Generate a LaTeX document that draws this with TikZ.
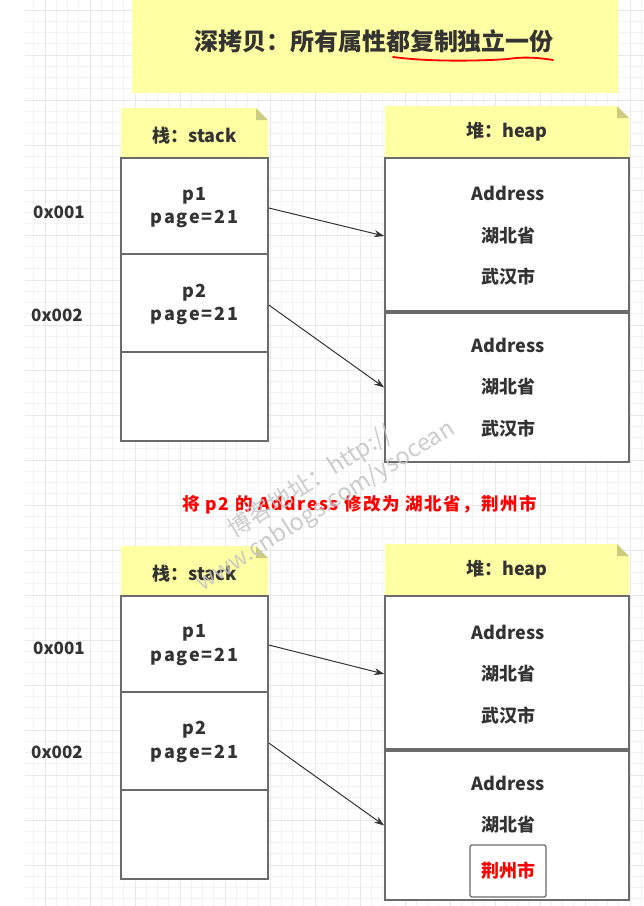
\documentclass[tikz,border=0pt]{standalone}
\usepackage{fontspec}
\setmainfont{Noto Sans CJK SC}
\newfontfamily\spacedfont{Noto Sans CJK SC}[LetterSpace=10]
\newfontfamily\captionfont{Noto Sans CJK SC}[LetterSpace=9]
\usetikzlibrary{arrows.meta}

\definecolor{notefill}{HTML}{FFFFA3}
\definecolor{notefold}{HTML}{CCCC80}
\definecolor{boxline}{HTML}{6B6B6B}
\definecolor{ink}{HTML}{333333}
\definecolor{gridminor}{HTML}{F3F3F3}
\definecolor{gridmajor}{HTML}{E8E8E8}
\definecolor{alert}{HTML}{FF0000}
\definecolor{wmark}{HTML}{C4C4C4}

\tikzset{
  txt/.style={font=\bfseries\fontsize{18}{23}\selectfont, text=ink, align=center, inner sep=0pt},
  cell/.style={draw=boxline, line width=1.6pt, fill=white, inner sep=0pt},
  stackcell/.style={cell, minimum width=147pt},
  heapcell/.style={cell, minimum width=244pt},
  notehead/.style={txt, inner sep=0pt,
    path picture={
      \fill[notefill] (path picture bounding box.south west)
        -- (path picture bounding box.north west)
        -- ([xshift=-12pt]path picture bounding box.north east)
        -- ([yshift=-12pt]path picture bounding box.north east)
        -- (path picture bounding box.south east) -- cycle;
      \fill[notefold] ([xshift=-12pt]path picture bounding box.north east)
        -- ([xshift=-12pt,yshift=-12pt]path picture bounding box.north east)
        -- ([yshift=-12pt]path picture bounding box.north east) -- cycle;
    }},
  vars/.style={txt, font=\spacedfont\bfseries\fontsize{18}{23.5}\selectfont},
  addr/.style={txt, font=\bfseries\fontsize{18}{20}\selectfont},
  ptr/.style={draw=ink, line width=1pt, -{Stealth[length=10pt,width=7pt]}},
}

\begin{document}
\begin{tikzpicture}[x=1pt,y=-1pt]
\useasboundingbox (0,0) rectangle (644,906);
\fill[white] (0,0) rectangle (644,906);

% background grid
\begin{scope}
  \clip (25,0) rectangle (644,906);
  \foreach \i in {0,...,55} {
    \draw[gridminor, line width=0.8pt] ({22.5+11.25*\i},0) -- ({22.5+11.25*\i},906);
  }
  \foreach \j in {0,...,80} {
    \draw[gridminor, line width=0.8pt] (25,{10+11.25*\j}) -- (644,{10+11.25*\j});
  }
  \foreach \i in {0,...,14} {
    \draw[gridmajor, line width=0.8pt] ({45+45*\i},0) -- ({45+45*\i},906);
  }
  \foreach \j in {0,...,20} {
    \draw[gridmajor, line width=0.8pt] (25,{10+45*\j}) -- (644,{10+45*\j});
  }
\end{scope}

% title
\fill[notefill] (132,-2) rectangle (618,93);
\node[txt, font=\bfseries\fontsize{24}{27}\selectfont] (title) at (374,41) {深拷贝：所有属性都复制独立一份};
\draw[alert, line width=1.8pt, line cap=round]
  (393,57) .. controls (430,62) and (480,61) .. (508,59)
  .. controls (520,57) and (535,57) .. (553,60);

% ---------- upper diagram ----------
\node[notehead, minimum width=147pt, minimum height=50pt] (sh1) at (194.5,133) {};
\node[txt] (sh1t) at ([yshift=-3pt]sh1.center) {栈：stack};
\node[notehead, minimum width=244pt, minimum height=52pt] (hh1) at (507,132) {堆：heap};

\node[stackcell, minimum height=96pt] (sa1) at (194.5,206) {};
\node[stackcell, minimum height=98pt] (sa2) at (194.5,303) {};
\node[stackcell, minimum height=89pt] (sa3) at (194.5,396.5) {};
\node[vars] (pa1) at (194.5,207.5) {p1\\page=21};
\node[vars] (pa2) at (194.5,304.5) {p2\\page=21};

\node[addr, font=\bfseries\fontsize{17}{20}\selectfont] (la1) at (59,212) {0x001};
\node[addr, font=\bfseries\fontsize{17}{20}\selectfont] (la2) at (57,315) {0x002};

\node[heapcell, minimum height=153pt] (ha1) at (507,234.5) {};
\node[heapcell, minimum height=149pt] (ha2) at (507,387.5) {};
\node[addr] (ta1) at (508,193) {Address};
\node[addr] (tb1) at (508,236) {湖北省};
\node[addr] (tc1) at (508,277) {武汉市};
\node[addr] (ta2) at (508,345) {Address};
\node[addr] (tb2) at (508,387) {湖北省};
\node[addr] (tc2) at (508,429) {武汉市};

\draw[ptr] ([yshift=-2pt]sa1.east) -- ([yshift=-1.5pt]ha1.west);
\draw[ptr] ([yshift=-2pt]sa2.east) -- (ha2.west);

% caption between the two states
\node[txt, text=alert, font=\captionfont\bfseries\fontsize{17.5}{20}\selectfont] (note) at (360,505)
  {将 p2 的 Address 修改为 湖北省，荆州市};

% ---------- lower diagram ----------
\node[notehead, minimum width=147pt, minimum height=50pt] (sh2) at (194.5,571) {};
\node[txt] (sh2t) at ([yshift=-3pt]sh2.center) {栈：stack};
\node[notehead, minimum width=244pt, minimum height=52pt] (hh2) at (507,570) {堆：heap};

\node[stackcell, minimum height=96pt] (sb1) at (194.5,644) {};
\node[stackcell, minimum height=98pt] (sb2) at (194.5,741) {};
\node[stackcell, minimum height=89pt] (sb3) at (194.5,834.5) {};
\node[vars] (pb1) at (194.5,645) {p1\\page=21};
\node[vars] (pb2) at (194.5,742) {p2\\page=21};

\node[addr, font=\bfseries\fontsize{17}{20}\selectfont] (lb1) at (59,648) {0x001};
\node[addr, font=\bfseries\fontsize{17}{20}\selectfont] (lb2) at (57,752) {0x002};

\node[heapcell, minimum height=153pt] (hb1) at (507,672.5) {};
\node[heapcell, minimum height=149pt] (hb2) at (507,825.5) {};
\node[addr] (ua1) at (508,632) {Address};
\node[addr] (ub1) at (508,674) {湖北省};
\node[addr] (uc1) at (508,716) {武汉市};
\node[addr] (ua2) at (508,783) {Address};
\node[addr] (ub2) at (508,825) {湖北省};
\node[draw=boxline, line width=1.3pt, rounded corners=1.5pt, fill=white,
      minimum width=76pt, minimum height=52pt, inner sep=0pt,
      font=\bfseries\fontsize{18}{20}\selectfont, text=alert] (uc2) at (508,871) {荆州市};

\draw[ptr] ([yshift=-1pt]sb1.east) -- ([yshift=-1.5pt]hb1.west);
\draw[ptr] ([yshift=-2pt]sb2.east) -- (hb2.west);

% blog watermark
\node[rotate=32, text=wmark, opacity=0.85, align=center,
      font=\fontsize{23.5}{28}\selectfont] (wm) at (318,494)
  {博客地址：http://\\www.cnblogs.com/ysocean};
\end{tikzpicture}
\end{document}
